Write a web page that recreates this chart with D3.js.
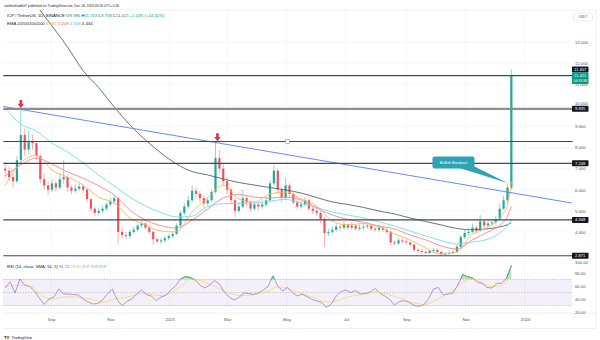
<!DOCTYPE html>
<html><head><meta charset="utf-8">
<script src="https://cdn.jsdelivr.net/npm/d3@7"></script>
<style>html,body{margin:0;padding:0;background:#fff;overflow:hidden}svg{display:block}text{font-family:"Liberation Sans",Arial,sans-serif}</style>
</head><body><svg id="c" width="600" height="340"></svg>
<script>
// ---------------- DATA ----------------
const candleStart = "2022-07-16";
const candleStepDays = 4;
const firstOpen = 7.0;
const closes = [6.9,6.6,6.4,7.4,8.6,7.9,8.3,8.2,7.6,6.5,
 6.2,6.0,6.3,6.1,6.5,6.6,6.1,5.95,6.05,6.15,
 6.0,5.55,5.1,4.9,5.0,5.1,5.3,5.45,5.6,4.0,
 3.85,3.8,4.0,4.1,4.3,4.4,4.2,4.0,3.65,3.55,
 3.6,3.7,3.8,3.9,4.3,4.9,5.2,5.5,5.95,5.8,
 5.6,5.35,5.5,5.9,7.5,7.0,6.4,6.0,5.5,5.0,
 5.2,5.6,5.4,5.1,5.3,5.2,5.3,5.5,6.3,6.9,
 6.0,5.6,6.2,5.8,5.4,5.2,5.3,5.5,5.1,5.0,
 4.9,4.6,3.95,4.0,4.1,4.25,4.2,4.35,4.2,4.3,
 4.15,4.2,4.25,4.3,4.15,4.1,4.2,4.1,4.0,3.5,
 3.45,3.6,3.55,3.5,3.4,3.15,3.1,3.05,3.0,3.1,
 3.15,3.05,2.95,2.95,3.0,3.05,3.3,3.75,3.95,4.0,
 4.2,4.05,4.5,4.3,4.4,4.45,4.6,5.1,5.5,6.1,
 11.421];
const highs = [7.3,7.1,6.8,7.6,9.9,8.9,8.8,8.6,8.3,7.7,
 6.8,6.4,6.5,6.4,6.8,7.4,6.7,6.2,6.25,6.3,
 6.25,6.05,5.6,5.2,5.15,5.25,5.4,5.6,5.75,5.65,
 4.2,4.0,4.1,4.25,4.4,4.5,4.45,4.25,4.05,3.75,
 3.7,3.8,3.9,4.0,4.4,5.0,5.35,5.7,6.2,6.1,
 5.95,5.7,5.65,6.0,8.28,7.9,7.2,6.6,6.1,5.6,
 5.4,6.0,5.75,5.5,5.45,5.4,5.45,5.65,6.45,7.17,
 7.0,6.1,6.55,6.3,5.9,5.5,5.45,5.65,5.55,5.2,
 5.1,5.0,4.7,4.15,4.25,4.4,4.35,4.5,4.4,4.45,
 4.35,4.35,4.4,4.45,4.35,4.25,4.35,4.25,4.2,4.05,
 3.6,3.7,3.7,3.65,3.55,3.45,3.25,3.2,3.15,3.2,
 3.25,3.2,3.1,3.05,3.1,3.15,3.4,3.85,4.1,4.2,
 4.4,4.3,4.8,4.6,4.55,4.6,4.75,5.35,5.7,6.3,
 11.703];
const lows = [6.6,6.4,6.1,6.3,7.2,7.6,7.7,7.9,7.4,6.3,
 6.0,5.75,5.9,5.9,6.0,6.3,5.9,5.8,5.85,5.95,
 5.85,5.4,4.95,4.75,4.8,4.9,5.0,5.2,5.3,3.45,
 3.7,3.65,3.7,3.9,4.0,4.2,4.1,3.9,3.38,3.45,
 3.45,3.5,3.6,3.7,3.85,4.2,4.8,5.1,5.4,5.6,
 5.4,5.15,5.25,5.4,5.8,6.8,6.2,5.8,5.3,4.7,
 4.9,5.1,5.2,4.95,5.0,5.05,5.1,5.2,5.4,6.2,
 5.8,5.4,5.5,5.6,5.3,5.05,5.1,5.2,5.0,4.85,
 4.75,4.4,3.3,3.8,3.9,4.0,4.05,4.1,4.1,4.1,
 4.05,4.05,4.1,4.15,4.05,4.0,4.0,4.0,3.9,3.35,
 3.35,3.4,3.45,3.4,3.3,3.05,3.0,2.95,2.92,2.95,
 3.0,2.95,2.87,2.87,2.9,2.95,3.0,3.25,3.65,3.85,
 3.95,3.95,4.0,4.2,4.25,4.3,4.35,4.55,5.05,5.3,
 6.0];

// EMA samples at candle indices 0,4,8,...,128,129,130
const ema20 = [6.22,7.27,7.64,6.93,6.60,6.22,5.65,5.37,4.66,4.33,4.04,4.0,4.94,5.61,6.22,5.56,5.42,5.80,5.89,5.56,5.23,4.52,4.33,4.40,4.23,3.90,3.62,3.24,2.95,3.05,3.90,4.23,4.90,5.27,6.383];
const ema50 = [6.65,7.17,7.50,7.22,6.84,6.55,6.18,5.75,5.04,4.56,4.30,4.18,4.56,5.09,5.61,5.77,5.65,5.61,5.65,5.51,5.13,4.80,4.59,4.45,4.28,4.14,3.85,3.62,3.33,3.19,3.62,4.0,4.47,4.75,5.209];
const ema100 = [9.87,9.11,8.78,8.21,7.79,7.27,6.70,6.18,5.65,5.23,4.92,4.71,4.75,5.20,5.34,5.35,5.37,5.46,5.54,5.37,5.16,4.94,4.80,4.66,4.47,4.28,4.04,3.81,3.59,3.43,3.52,3.66,4.09,4.28,4.568];
const ema200 = [16.7,15.7,14.74,13.76,12.76,11.64,10.84,9.92,9.07,8.36,7.74,7.22,6.86,6.70,6.51,6.34,6.22,6.10,5.99,5.84,5.63,5.42,5.30,5.16,4.99,4.85,4.66,4.49,4.33,4.16,4.10,4.15,4.28,4.34,4.434];

// RSI every 5 days from candleStart; signal (SMA) every 10 days
const rsiStepDays = 5;
const rsi = [56.9,66.6,49.2,70.8,61.5,59.2,52.3,41.5,31.5,40,
 43.1,55.4,47.7,47.7,46.9,46.2,40,35.4,32.3,33.1,
 38.5,47.7,55.4,38.5,30,36.2,40,47.7,53.8,46.9,
 44.6,37.7,43.1,45.4,53.8,60,70.8,74.6,73.1,69.2,
 61.5,56.9,61.5,68.5,63.1,50.8,43.1,38.5,42.3,49.2,
 48.5,46.9,49.2,53.8,59.2,75.4,60,52.3,57.7,50,
 44.6,47.7,43.5,39.2,36.9,34.6,26.9,32.3,44.6,51.5,
 53.8,50,53.1,47.7,48.5,50.8,56.2,48.5,44.6,39.2,
 30.8,36.2,37.4,34.6,30.3,28.6,31.2,40.8,55.4,57.7,
 46.2,47.7,49.2,61.5,77.7,74.3,72.3,66.2,63.8,57.7,
 56.9,63.8,64.6,71.5,91.71];
const sigStepDays = 10;
const rsiSignal = [58.9,60.8,60.8,56.2,42.3,40,43.1,43.2,41.8,39.2,
 34.6,39.2,41.5,44.6,48.8,46.9,45.4,50,58.5,70,
 68.5,63.1,56.2,49.2,45.4,45.7,48.5,52.3,58.9,56.2,
 50.8,45.4,40,35.4,36.9,42.3,45.4,48.5,50.8,48.5,
 43.8,39.2,33.8,31.5,36.2,44.6,53.8,66.2,71.5,65.4,
 59.2,61.5,74];

// Axis ticks
const priceTicks = [4,5,6,7,8,9,10,11,12,13];
const rsiTicks = [100,80,60,40,20];
const timeTicks = ["2022-09-01","2022-11-01","2023-01-01","2023-03-01","2023-05-01","2023-07-01","2023-09-01","2023-11-01","2024-01-01"];
const timeLabels = ["Sep","Nov","2023","Mar","May","Jul","Sep","Nov","2024"];

// Drawings
const levelPrices = [11.407, 9.835, 8.284, 7.249, 4.568, 2.871];
const levelLabeled = [true, true, false, true, true, true];
const levelStart = "2022-07-14", levelEnd = "2024-02-19";
const trendDates = ["2022-07-14","2024-02-18"];
const trendPrices = [9.943, 5.37];
const arrowDates = ["2022-08-01","2023-02-19"];
const arrowPrices = [9.87, 8.3];
const handleDate = "2023-05-02";
const calloutDate = "2023-12-14", calloutPrice = 6.32, calloutText = "Bullish Breakout";
const lastPrice = 11.421, lastTime = "04:33:38";

// ---------------- DRAW ----------------
const parse = d3.utcParse("%Y-%m-%d");
const DAY = 864e5;
const t0 = parse(candleStart);
const svg = d3.select("#c");
const x = d3.scaleUtc().domain([parse("2022-09-01"), parse("2024-01-01")]).range([51, 525]);
const y = d3.scaleLinear().domain([4, 13]).range([231.9, 42]);
const ry = d3.scaleLinear().domain([0, 100]).range([325, 260]);
const X0 = 3, X1 = 572;

const candles = closes.map((c, i) => ({date: new Date(+t0 + i*candleStepDays*DAY), o: i ? closes[i-1] : firstOpen, h: highs[i], l: lows[i], c}));

const defs = svg.append("defs");
defs.append("clipPath").attr("id","mainClip").append("rect").attr("x",X0).attr("y",10).attr("width",X1-X0).attr("height",250);
defs.append("clipPath").attr("id","ob").append("rect").attr("x",X0).attr("y",255).attr("width",X1-X0).attr("height",ry(70)-255);
defs.append("clipPath").attr("id","os").append("rect").attr("x",X0).attr("y",ry(30)).attr("width",X1-X0).attr("height",20);

// frame lines
svg.append("line").attr("x1",X0).attr("x2",597).attr("y1",10).attr("y2",10).attr("stroke","#e6e8ee").attr("stroke-width",0.6);
svg.append("line").attr("x1",X0).attr("x2",597).attr("y1",313).attr("y2",313).attr("stroke","#e6e8ee").attr("stroke-width",0.6);
svg.append("line").attr("x1",X0).attr("x2",597).attr("y1",328.5).attr("y2",328.5).attr("stroke","#e6e8ee").attr("stroke-width",0.6);
svg.append("line").attr("x1",596).attr("x2",596).attr("y1",10).attr("y2",328.5).attr("stroke","#e6e8ee").attr("stroke-width",0.6);

// grids
const grid = svg.append("g");
grid.selectAll("line.v").data(timeTicks).join("line")
  .attr("x1", d => x(parse(d))).attr("x2", d => x(parse(d))).attr("y1", 10).attr("y2", 313)
  .attr("stroke", "#f0f3fa").attr("stroke-width", 0.7);
grid.selectAll("line.h").data(d3.range(3, 14)).join("line")
  .attr("x1", X0).attr("x2", X1).attr("y1", d => y(d)).attr("y2", d => y(d))
  .attr("stroke", "#f0f3fa").attr("stroke-width", 0.7);

// ---- main pane ----
const main = svg.append("g").attr("clip-path","url(#mainClip)");
const bw = 2.2;
main.selectAll("line.wick").data(candles).join("line")
  .attr("x1", d => x(d.date)).attr("x2", d => x(d.date))
  .attr("y1", d => y(d.h)).attr("y2", d => y(d.l))
  .attr("stroke", d => d.c >= d.o ? "#86cfc4" : "#f5a7ad").attr("stroke-width", 0.9);
main.selectAll("rect.body").data(candles).join("rect")
  .attr("x", d => x(d.date) - bw/2).attr("width", bw)
  .attr("y", d => y(Math.max(d.o, d.c)))
  .attr("height", d => Math.max(0.7, Math.abs(y(d.o) - y(d.c))))
  .attr("fill", d => d.c >= d.o ? "#26a69a" : "#ef5360");

const emaIdx = d3.range(0, 129, 4).concat([129, 130]);
const emaLine = d3.line().x(d => x(d[0])).y(d => y(d[1])).curve(d3.curveMonotoneX);
const emaSeries = [[ema200, "#5f626c"], [ema100, "#72dfea"], [ema50, "#f6878c"], [ema20, "#ffb45a"]];
emaSeries.forEach(([vals, col]) => {
  const pts = vals.map((v, j) => [new Date(+t0 + emaIdx[j]*candleStepDays*DAY), v]);
  main.append("path").attr("d", emaLine(pts)).attr("fill","none").attr("stroke", col).attr("stroke-width", 0.9);
});

// trend line
main.append("line")
  .attr("x1", x(parse(trendDates[0]))).attr("y1", y(trendPrices[0]))
  .attr("x2", x(parse(trendDates[1]))).attr("y2", y(trendPrices[1]))
  .attr("stroke", "#5b7cf0").attr("stroke-width", 0.9);

// horizontal levels
levelPrices.forEach((p, i) => {
  const thick = p === 9.835;
  svg.append("line").attr("x1", x(parse(levelStart))).attr("x2", x(parse(levelEnd)))
    .attr("y1", y(p)).attr("y2", y(p))
    .attr("stroke", thick ? "#8e8e8e" : "#45474f").attr("stroke-width", thick ? 2.2 : 1.1);
});
svg.append("rect").attr("x", x(parse(handleDate)) - 1.8).attr("y", y(8.284) - 1.8).attr("width", 3.6).attr("height", 3.6)
  .attr("fill", "#fff").attr("stroke", "#6f8fe8").attr("stroke-width", 0.6);

// arrows
arrowDates.forEach((d, i) => {
  const ax = x(parse(d)), ay = y(arrowPrices[i]);
  svg.append("path")
    .attr("d", `M${ax-1.3},${ay-8}h2.6v3.8h1.9l-3.2,4.2l-3.2,-4.2h1.9z`)
    .attr("fill", "#e0334a");
});

// callout
{
  const tx = x(parse(calloutDate)), ty = y(calloutPrice);
  const cx = tx - 54, cy = ty - 20.5, w = 42, h = 12;
  const col = "#2ea3b4";
  svg.append("path").attr("d", `M${cx+6},${cy+h/2-0.5}L${cx+w/2},${cy+h/2-2}L${tx},${ty}Z`).attr("fill", col);
  svg.append("rect").attr("x", cx - w/2).attr("y", cy - h/2).attr("width", w).attr("height", h).attr("rx", 2).attr("fill", col);
  svg.append("text").attr("x", cx).attr("y", cy + 1.4).attr("text-anchor", "middle").attr("font-size", 3.8).attr("fill", "#fff").text(calloutText);
}

// ---- RSI pane ----
const rsiG = svg.append("g");
rsiG.append("rect").attr("x", X0).attr("width", X1 - X0).attr("y", ry(70)).attr("height", ry(30) - ry(70)).attr("fill", "#7e57c2").attr("opacity", 0.09);
[70, 50, 30].forEach(v => rsiG.append("line").attr("x1", X0).attr("x2", X1).attr("y1", ry(v)).attr("y2", ry(v))
  .attr("stroke", "#a9acb6").attr("stroke-width", 0.6).attr("stroke-dasharray", "1.4,1.4"));
const rsiPts = rsi.map((v, k) => [new Date(+t0 + k*rsiStepDays*DAY), v]);
const sigPts = rsiSignal.map((v, k) => [new Date(+t0 + k*sigStepDays*DAY), v]);
const rArea = d3.area().x(d => x(d[0])).y0(ry(70)).y1(d => ry(d[1]));
const rArea2 = d3.area().x(d => x(d[0])).y0(ry(30)).y1(d => ry(d[1]));
const rLine = d3.line().x(d => x(d[0])).y(d => ry(d[1]));
rsiG.append("path").attr("d", rArea(rsiPts)).attr("fill", "#4caf50").attr("opacity", 0.35).attr("clip-path", "url(#ob)");
rsiG.append("path").attr("d", rArea2(rsiPts)).attr("fill", "#f23645").attr("opacity", 0.25).attr("clip-path", "url(#os)");
rsiG.append("path").attr("d", d3.line().x(d => x(d[0])).y(d => ry(d[1])).curve(d3.curveMonotoneX)(sigPts)).attr("fill", "none").attr("stroke", "#f5dc5a").attr("stroke-width", 0.8);
rsiG.append("path").attr("d", rLine(rsiPts)).attr("fill", "none").attr("stroke", "#9c7fd6").attr("stroke-width", 0.8);
rsiG.append("path").attr("d", rLine(rsiPts)).attr("fill", "none").attr("stroke", "#3cb371").attr("stroke-width", 0.9).attr("clip-path", "url(#ob)");

// ---- axes ----
const yAxis = d3.axisRight(y).tickValues(priceTicks).tickFormat(d3.format(".3f")).tickSize(0).tickPadding(0);
const ya = svg.append("g").attr("transform", "translate(575,0)").call(yAxis);
const rAxis = d3.axisRight(ry).tickValues(rsiTicks).tickFormat(d3.format(".2f")).tickSize(0).tickPadding(0);
const ra = svg.append("g").attr("transform", "translate(575,0)").call(rAxis);
const xAxis = d3.axisBottom(x).tickValues(timeTicks.map(parse)).tickFormat((d, i) => timeLabels[i]).tickSize(0).tickPadding(0);
const xa = svg.append("g").attr("transform", "translate(0,318.5)").call(xAxis);
[ya, ra, xa].forEach(a => {
  a.select(".domain").remove();
  a.selectAll("text").attr("font-size", 4.2).attr("fill", "#50535e").attr("font-family", '"Liberation Sans",Arial,sans-serif');
});
// nudge tick labels that sit right under a price label box
ya.selectAll(".tick").filter(d => d === 10).select("text").attr("dy", "-0.3em");
ra.selectAll(".tick").filter(d => d === 100).select("text").attr("dy", "0.75em");

// price label boxes
function box(yc, fill, h) {
  svg.append("rect").attr("x", 572).attr("y", yc - h/2).attr("width", 16.5).attr("height", h).attr("rx", 0.8).attr("fill", fill);
}
levelPrices.forEach((p, i) => {
  if (!levelLabeled[i]) return;
  const yc = y(p) + (p === 11.407 ? -6 : 0);
  box(yc, "#131722", 6);
  svg.append("text").attr("x", 580.2).attr("y", yc + 1.5).attr("text-anchor", "middle").attr("font-size", 4.1).attr("fill", "#fff").text(d3.format(".3f")(p));
});
{
  const yc = y(lastPrice) + 3;
  box(yc, "#089981", 11.5);
  svg.append("text").attr("x", 580.2).attr("y", yc - 1).attr("text-anchor", "middle").attr("font-size", 4.1).attr("fill", "#fff").text(d3.format(".3f")(lastPrice));
  svg.append("text").attr("x", 580.2).attr("y", yc + 4).attr("text-anchor", "middle").attr("font-size", 3.4).attr("fill", "#fff").text(lastTime);
}

// USDT box
svg.append("rect").attr("x", 573.5).attr("y", 13).attr("width", 19).attr("height", 8).attr("rx", 1.5).attr("fill", "#fff").attr("stroke", "#d6d8de").attr("stroke-width", 0.5);
svg.append("text").attr("x", 583).attr("y", 18.4).attr("text-anchor", "middle").attr("font-size", 3.4).attr("fill", "#50535e").text("USDT");

// ---- header text ----
svg.append("text").attr("x", 4).attr("y", 7).attr("font-size", 3.3).attr("fill", "#131722")
  .text("sahilmahadik07 published on TradingView.com, Dec 18, 2023 00:56 UTC+5:30");
const green = "#089981";
const h2 = svg.append("text").attr("x", 7).attr("y", 17.3).attr("font-size", 4.3).attr("fill", "#131722");
h2.append("tspan").text("ICP / TetherUS, 1D, BINANCE  ");
[["O","9.986"],["H","11.703"],["L","9.758"],["C","11.421"]].forEach(([k, v]) => {
  h2.append("tspan").attr("fill", "#131722").text(k);
  h2.append("tspan").attr("fill", green).text(v + "  ");
});
h2.append("tspan").attr("fill", green).text("+1.435 (+14.32%)");
const h3 = svg.append("text").attr("x", 7).attr("y", 25.2).attr("font-size", 4.3).attr("fill", "#131722");
h3.append("tspan").text("EMA 20/50/100/200  ");
[["6.383","#ff9f1a"],["5.209","#f2525c"],["4.568","#3cc8dc"],["4.434","#131722"]].forEach(([v, c]) => h3.append("tspan").attr("fill", c).text(v + "  "));

const h4 = svg.append("text").attr("x", 7).attr("y", 267.5).attr("font-size", 4.2).attr("fill", "#131722");
h4.append("tspan").text("RSI (14, close, SMA, 14, 2)  ");
h4.append("tspan").attr("fill", "#7e57c2").text("91.71  ");
h4.append("tspan").attr("fill", "#e8c21a").text("78.80  ");
h4.append("tspan").attr("fill", "#787b86").text("\u2205  \u2205  \u2205  \u2205  \u2205  \u2205");

// footer logo
svg.append("text").attr("x", 4).attr("y", 338.5).attr("font-size", 4.3).attr("font-weight", 900).attr("fill", "#131722").text("TV");
svg.append("text").attr("x", 11.5).attr("y", 338.5).attr("font-size", 3.7).attr("fill", "#131722").text("TradingView");
</script></body></html>
